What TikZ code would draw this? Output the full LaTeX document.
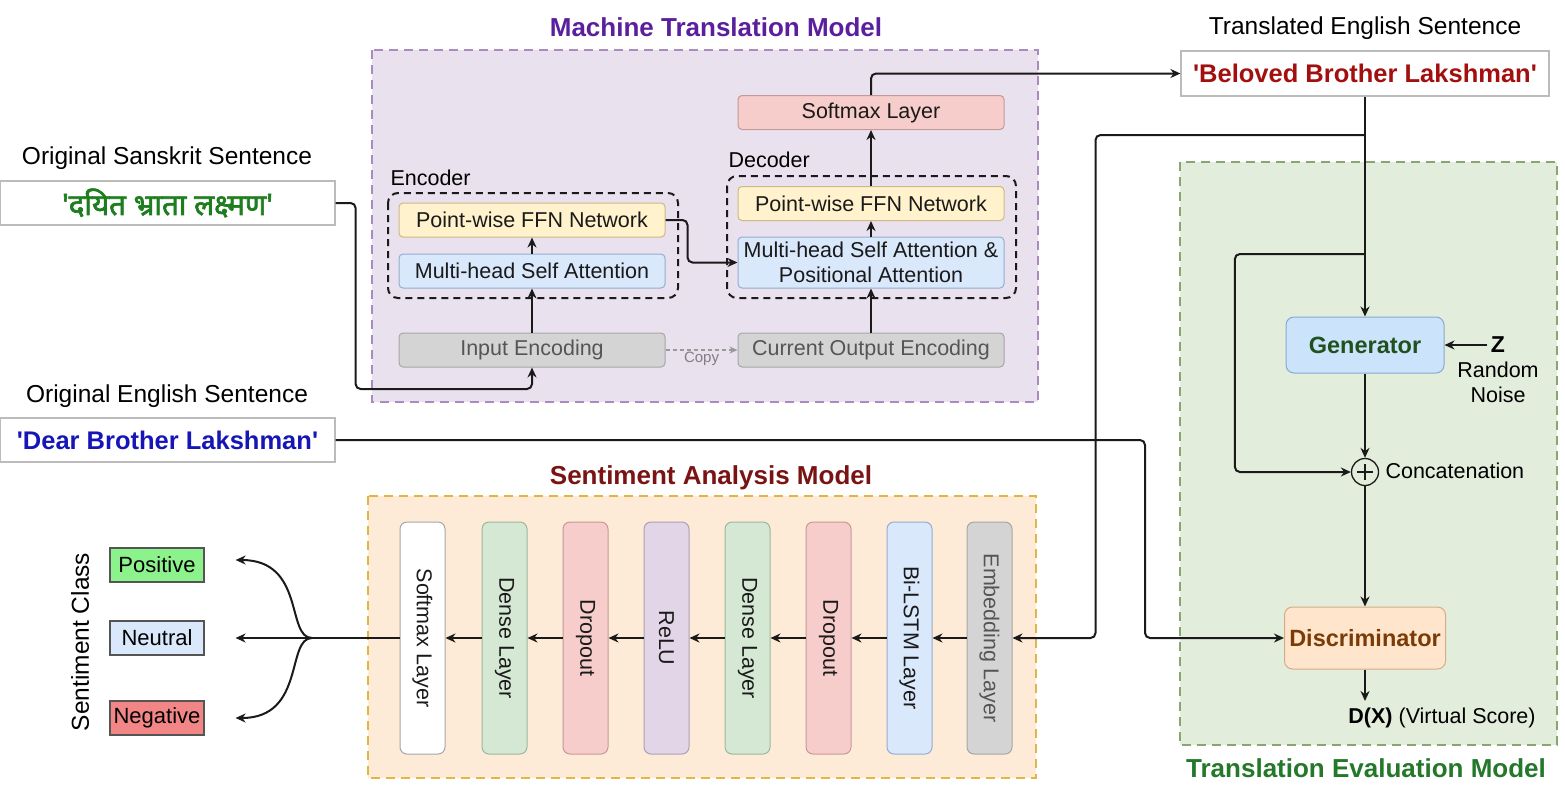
\documentclass[tikz,border=0pt]{standalone}
\usepackage{fontspec}
\setmainfont{Liberation Sans}
\newfontfamily\devfont[Script=Devanagari, FakeBold=2.2]{Noto Sans}
\usetikzlibrary{arrows.meta,calc}
\definecolor{mtfill}{HTML}{EAE1EF}
\definecolor{mtdraw}{HTML}{A98BBD}
\definecolor{mttitle}{HTML}{5B1F9E}
\definecolor{tefill}{HTML}{E3EDDC}
\definecolor{tedraw}{HTML}{86A774}
\definecolor{tetitle}{HTML}{23782A}
\definecolor{safill}{HTML}{FDEBD7}
\definecolor{sadraw}{HTML}{E2B545}
\definecolor{satitle}{HTML}{7A1414}
\definecolor{pinkf}{HTML}{F6CDCB}
\definecolor{pinkd}{HTML}{C49A98}
\definecolor{yelf}{HTML}{FFF2CC}
\definecolor{yeld}{HTML}{CDB981}
\definecolor{bluef}{HTML}{DAE8FC}
\definecolor{blued}{HTML}{93AECF}
\definecolor{grayf}{HTML}{D4D4D4}
\definecolor{grayd}{HTML}{A6A6A6}
\definecolor{grayt}{HTML}{555555}
\definecolor{greenf}{HTML}{D5E8D4}
\definecolor{greend}{HTML}{9CB89A}
\definecolor{purf}{HTML}{E1D5E7}
\definecolor{purd}{HTML}{ABA0B5}
\definecolor{genf}{HTML}{CCE4FB}
\definecolor{gend}{HTML}{86A9CC}
\definecolor{gent}{HTML}{21501F}
\definecolor{disf}{HTML}{FFE5CC}
\definecolor{disd}{HTML}{D6AC86}
\definecolor{dist}{HTML}{7A3B06}
\definecolor{sktgreen}{HTML}{1E7D1E}
\definecolor{engblue}{HTML}{1616B8}
\definecolor{transred}{HTML}{A30F0F}
\definecolor{posf}{HTML}{8CF28C}
\definecolor{negf}{HTML}{F28585}
\definecolor{linec}{HTML}{1A1A1A}
\definecolor{sentd}{HTML}{BBBBBB}
\newcommand\fsA{\fontsize{21.5}{25}\selectfont}
\newcommand\fsB{\fontsize{24.5}{29}\selectfont}
\newcommand\fsT{\fontsize{26}{31}\selectfont\bfseries}
\newcommand\sq{\textquotesingle}
\tikzset{
  layer/.style={line width=1pt, rounded corners=4pt, minimum width=266pt, minimum height=34pt, inner sep=2pt, align=center, font=\fsA, text=linec},
  colbox/.style={line width=1pt, rounded corners=7pt, minimum width=45pt, minimum height=232pt, inner sep=0pt, font=\fsA, text=linec},
  conn/.style={line width=2pt, draw=linec, rounded corners=5pt, -{Stealth[length=10pt,width=9pt]}},
  wire/.style={line width=2pt, draw=linec, rounded corners=5pt},
  grp/.style={line width=2.5pt, dash pattern=on 9pt off 6pt},
  encdash/.style={draw=linec, line width=2pt, dash pattern=on 7pt off 5pt, rounded corners=10pt},
  sentbox/.style={draw=sentd, line width=1.2pt, minimum width=335pt, minimum height=44pt, fill=white, inner sep=0pt},
  cls/.style={draw=grayt, line width=1.2pt, minimum width=94pt, minimum height=34pt, inner sep=0pt, font=\fontsize{22}{26}\selectfont},
  genbox/.style={line width=1pt, rounded corners=8pt, minimum width=158pt, minimum height=56pt, fill=genf, draw=gend, text=gent, font=\fontsize{23.5}{28}\selectfont\bfseries},
  discbox/.style={line width=1pt, rounded corners=8pt, minimum width=161pt, minimum height=62pt, fill=disf, draw=disd, text=dist, font=\fontsize{23.5}{28}\selectfont\bfseries}
}
\begin{document}
\begin{tikzpicture}[x=1pt,y=-1pt]
\useasboundingbox[fill=white] (0,0) rectangle (1565,798);
% group backgrounds
\draw[grp, draw=mtdraw, fill=mtfill] (372,50) rectangle (1038,402);
\draw[grp, draw=tedraw, fill=tefill] (1180,162) rectangle (1557,745);
\draw[grp, draw=sadraw, fill=safill] (368,496) rectangle (1036,778);
% titles
\node[font=\fsT, text=mttitle] (mtt) at (716,27) {Machine Translation Model};
\node[font=\fsT, text=satitle] (sat) at (711,478) {Sentiment Analysis Model};
\node[font=\fsT, text=tetitle] (tet) at (1366,768) {Translation Evaluation Model};
% encoder / decoder
\draw[encdash] (388,193) rectangle (678,298);
\draw[encdash] (727,176) rectangle (1016,298);
\node[font=\fsA, anchor=west] (encl) at (387,178) {Encoder};
\node[font=\fsA, anchor=west] (decl) at (725,160) {Decoder};
\node[layer, fill=pinkf, draw=pinkd] (smx) at (871,112.5) {Softmax Layer};
\node[layer, fill=yelf, draw=yeld] (dffn) at (871,203.5) {Point-wise FFN Network};
\node[layer, fill=bluef, draw=blued, minimum height=51pt] (dmha) at (871,262.5) {Multi-head Self Attention \&\\Positional Attention};
\node[layer, fill=grayf, draw=grayd, text=grayt] (coe) at (871,350) {Current Output Encoding};
\node[layer, fill=grayf, draw=grayd, text=grayt] (ie) at (532,350) {Input Encoding};
\node[layer, fill=yelf, draw=yeld] (effn) at (532,220) {Point-wise FFN Network};
\node[layer, fill=bluef, draw=blued] (emha) at (532,271) {Multi-head Self Attention};
\draw[conn] (ie.north) -- (emha.south);
\draw[conn] (emha.north) -- (effn.south);
\draw[conn] (effn.east) -- ++(22,0) |- (dmha.west);
\draw[conn] (coe.north) -- (dmha.south);
\draw[conn] (dmha.north) -- (dffn.south);
\draw[conn] (dffn.north) -- (smx.south);
\draw[line width=1.6pt, draw=gray!80, dash pattern=on 4pt off 3pt, -{Stealth[length=8pt,width=7pt]}] (ie.east) -- (coe.west)
  node[midway, below=-2pt, font=\fontsize{15}{18}\selectfont, text=gray] (cpy) {Copy};
% sentences
\node[font=\fsB] (skl) at (167,158) {Original Sanskrit Sentence};
\node[sentbox] (sk) at (167.5,203) {\textcolor{sktgreen}{\devfont\fontsize{29.5}{34}\selectfont \sq दयित भ्राता लक्ष्मण\sq}};
\node[font=\fsB] (enl) at (167,396) {Original English Sentence};
\node[sentbox] (en) at (167.5,440) {\textcolor{engblue}{\fontsize{25.5}{30}\selectfont\bfseries \sq Dear Brother Lakshman\sq}};
\node[font=\fsB] (trl) at (1365,28) {Translated English Sentence};
\node[sentbox, minimum width=368pt, minimum height=45pt] (trans) at (1365,73.5) {\textcolor{transred}{\fontsize{25.5}{30}\selectfont\bfseries \sq Beloved Brother Lakshman\sq}};
\draw[conn] (smx.north) |- (trans.west);
\draw[conn] (sk.east) -- ++(20,0) -- ++(0,186) -| (ie.south);
% sentiment columns
\node[colbox, fill=white, draw=grayd] (c1) at (422.5,638) {\rotatebox{-90}{Softmax Layer}};
\node[colbox, fill=greenf, draw=greend] (c2) at (504.5,638) {\rotatebox{-90}{Dense Layer}};
\node[colbox, fill=pinkf, draw=pinkd] (c3) at (585.5,638) {\rotatebox{-90}{Dropout}};
\node[colbox, fill=purf, draw=purd] (c4) at (666.5,638) {\rotatebox{-90}{ReLU}};
\node[colbox, fill=greenf, draw=greend] (c5) at (747.5,638) {\rotatebox{-90}{Dense Layer}};
\node[colbox, fill=pinkf, draw=pinkd] (c6) at (828.5,638) {\rotatebox{-90}{Dropout}};
\node[colbox, fill=bluef, draw=blued] (c7) at (909.5,638) {\rotatebox{-90}{Bi-LSTM Layer}};
\node[colbox, fill=grayf, draw=grayd, text=grayt] (emb) at (989.5,638) {\rotatebox{-90}{Embedding Layer}};
\draw[conn] (c2.west) -- (c1.east);
\draw[conn] (c3.west) -- (c2.east);
\draw[conn] (c4.west) -- (c3.east);
\draw[conn] (c5.west) -- (c4.east);
\draw[conn] (c6.west) -- (c5.east);
\draw[conn] (c7.west) -- (c6.east);
\draw[conn] (emb.west) -- (c7.east);
% sentiment classes
\node[font=\fsB, rotate=90] (scl) at (80,642) {Sentiment Class};
\node[cls, fill=posf] (pos) at (157,565) {Positive};
\node[cls, fill=bluef] (neu) at (157,638) {Neutral};
\node[cls, fill=negf] (neg) at (157,718) {Negative};
\coordinate (jn) at (312,638);
\coordinate (pe) at ($(pos.east)+(31,-5)$);
\coordinate (ne) at ($(neu.east)+(31,0)$);
\coordinate (ge) at ($(neg.east)+(31,0)$);
\draw[wire] (c1.west) -- (jn);
\draw[conn] (jn) .. controls ($(jn)+(-26,0)$) and ($(pe)+(70,0)$) .. (pe);
\draw[conn] (jn) -- (ne);
\draw[conn] (jn) .. controls ($(jn)+(-26,0)$) and ($(ge)+(70,0)$) .. (ge);
% translation evaluation
\node[genbox] (gen) at (1365,345) {Generator};
\node[font=\fontsize{23}{27}\selectfont\bfseries] (zz) at (1498,345) {Z};
\draw[conn] (zz.west) -- (gen.east);
\node[font=\fsA, align=center] (rn) at (1498,382) {Random\\Noise};
\node[circle, draw=linec, line width=1.3pt, minimum size=27pt, inner sep=0pt, fill=tefill] (cc) at (1365,472) {};
\draw[line width=1.6pt, draw=linec] ($(cc.center)+(-8,0)$) -- ($(cc.center)+(8,0)$) ($(cc.center)+(0,-8)$) -- ($(cc.center)+(0,8)$);
\node[font=\fsA, anchor=west] (ccl) at (1382,471) {Concatenation};
\node[discbox] (disc) at (1365,638) {Discriminator};
\coordinate (dxa) at (1365,701);
\draw[conn] (disc.south) -- (dxa);
\node[font=\fsA] (dx) at (1442,718) {\textbf{D(X)} (Virtual Score)};
\coordinate (b1) at (1365,135);
\coordinate (b2) at (1365,254);
\draw[conn] (trans.south) -- (gen.north);
\draw[conn] (b1) -| ($(emb.east)+(83,0)$) -- (emb.east);
\draw[conn] (b2) -| ($(cc.west)+(-116,0)$) -- (cc.west);
\draw[conn] (en.east) -| ($(disc.west)+(-139,0)$) -- (disc.west);
\draw[conn] (gen.south) -- (cc.north);
\draw[conn] (cc.south) -- (disc.north);
\end{tikzpicture}
\end{document}
